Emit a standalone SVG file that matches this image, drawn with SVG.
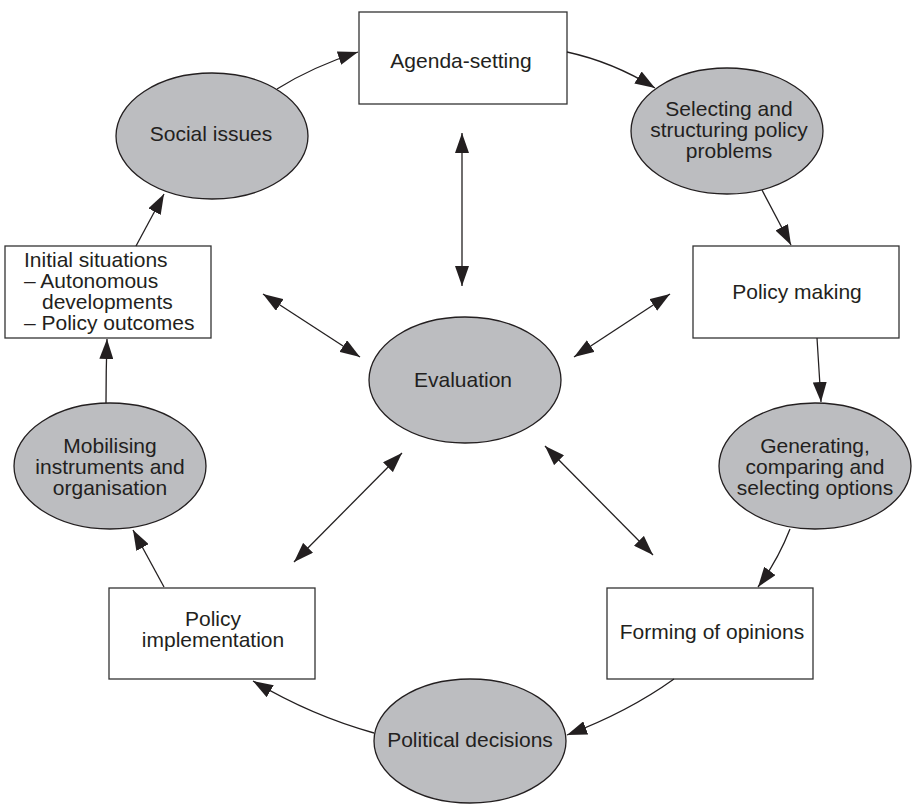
<svg xmlns="http://www.w3.org/2000/svg" width="912" height="804" viewBox="0 0 912 804">
<style>
.box{fill:#fff;stroke:#333;stroke-width:1.3}
.ell{fill:#bcbdc0;stroke:#231f20;stroke-width:1.3}
text{font-family:"Liberation Sans",Arial,sans-serif;font-size:21px;fill:#231f20}
.c{text-anchor:middle}
.ln{fill:none;stroke:#231f20;stroke-width:1.3}
</style>
<defs>
<marker id="ah" markerUnits="userSpaceOnUse" markerWidth="20" markerHeight="14" refX="20" refY="7" orient="auto-start-reverse">
<path d="M0,0 L20,7 L0,14 z" fill="#231f20"/>
</marker>
</defs>
<rect width="912" height="804" fill="#fff"/>
<g id="agenda"><rect class="box" x="359" y="12" width="208" height="92"/><text class="c" x="461" y="68">Agenda-setting</text></g>
<g id="social"><ellipse class="ell" cx="212" cy="136" rx="96" ry="63"/><text class="c" x="211" y="141">Social issues</text></g>
<g id="selecting"><ellipse class="ell" cx="727" cy="131" rx="96" ry="63"/><text class="c" x="729" y="116">Selecting and</text><text class="c" x="729" y="137">structuring policy</text><text class="c" x="729" y="158">problems</text></g>
<g id="initial"><rect class="box" x="5" y="246" width="206" height="92"/><text x="24" y="267">Initial situations</text><text x="24" y="288">– Autonomous</text><text x="42" y="309">developments</text><text x="24" y="330">– Policy outcomes</text></g>
<g id="policymaking"><rect class="box" x="693" y="246" width="206" height="92"/><text class="c" x="797" y="299">Policy making</text></g>
<g id="evaluation"><ellipse class="ell" cx="465" cy="380" rx="96" ry="63"/><text class="c" x="463" y="387">Evaluation</text></g>
<g id="mobilising"><ellipse class="ell" cx="110" cy="466" rx="96" ry="63"/><text class="c" x="110" y="453">Mobilising</text><text class="c" x="110" y="474">instruments and</text><text class="c" x="110" y="495">organisation</text></g>
<g id="generating"><ellipse class="ell" cx="815" cy="466" rx="96" ry="63"/><text class="c" x="815" y="453">Generating,</text><text class="c" x="815" y="474">comparing and</text><text class="c" x="815" y="495">selecting options</text></g>
<g id="implementation"><rect class="box" x="109" y="588" width="206" height="91"/><text class="c" x="213" y="626">Policy</text><text class="c" x="213" y="647">implementation</text></g>
<g id="forming"><rect class="box" x="607" y="588" width="206" height="91"/><text class="c" x="712" y="639">Forming of opinions</text></g>
<g id="political"><ellipse class="ell" cx="470" cy="741" rx="96" ry="62"/><text class="c" x="470" y="747">Political decisions</text></g>
<g id="connectors">
<path class="ln" d="M277,89 Q312,67 358,52" marker-end="url(#ah)"/>
<path class="ln" d="M567,52 Q613,62 655,88" marker-end="url(#ah)"/>
<path class="ln" d="M762,190 L791,245" marker-end="url(#ah)"/>
<path class="ln" d="M817,338 Q819,370 821,402" marker-end="url(#ah)"/>
<path class="ln" d="M790,529 Q778,560 758,587" marker-end="url(#ah)"/>
<path class="ln" d="M674,679 Q628,712 567,735" marker-end="url(#ah)"/>
<path class="ln" d="M374,733 Q312,716 253,681" marker-end="url(#ah)"/>
<path class="ln" d="M164,587 L133,530" marker-end="url(#ah)"/>
<path class="ln" d="M106,403 Q106,370 107,339" marker-end="url(#ah)"/>
<path class="ln" d="M136,246 L164,194" marker-end="url(#ah)"/>
<path class="ln" d="M462,133 L462,286" marker-start="url(#ah)" marker-end="url(#ah)"/>
<path class="ln" d="M263,294 L360,357" marker-start="url(#ah)" marker-end="url(#ah)"/>
<path class="ln" d="M670,294 L574,357" marker-start="url(#ah)" marker-end="url(#ah)"/>
<path class="ln" d="M402,453 L294,562" marker-start="url(#ah)" marker-end="url(#ah)"/>
<path class="ln" d="M545,446 L653,555" marker-start="url(#ah)" marker-end="url(#ah)"/>
</g>
</svg>
